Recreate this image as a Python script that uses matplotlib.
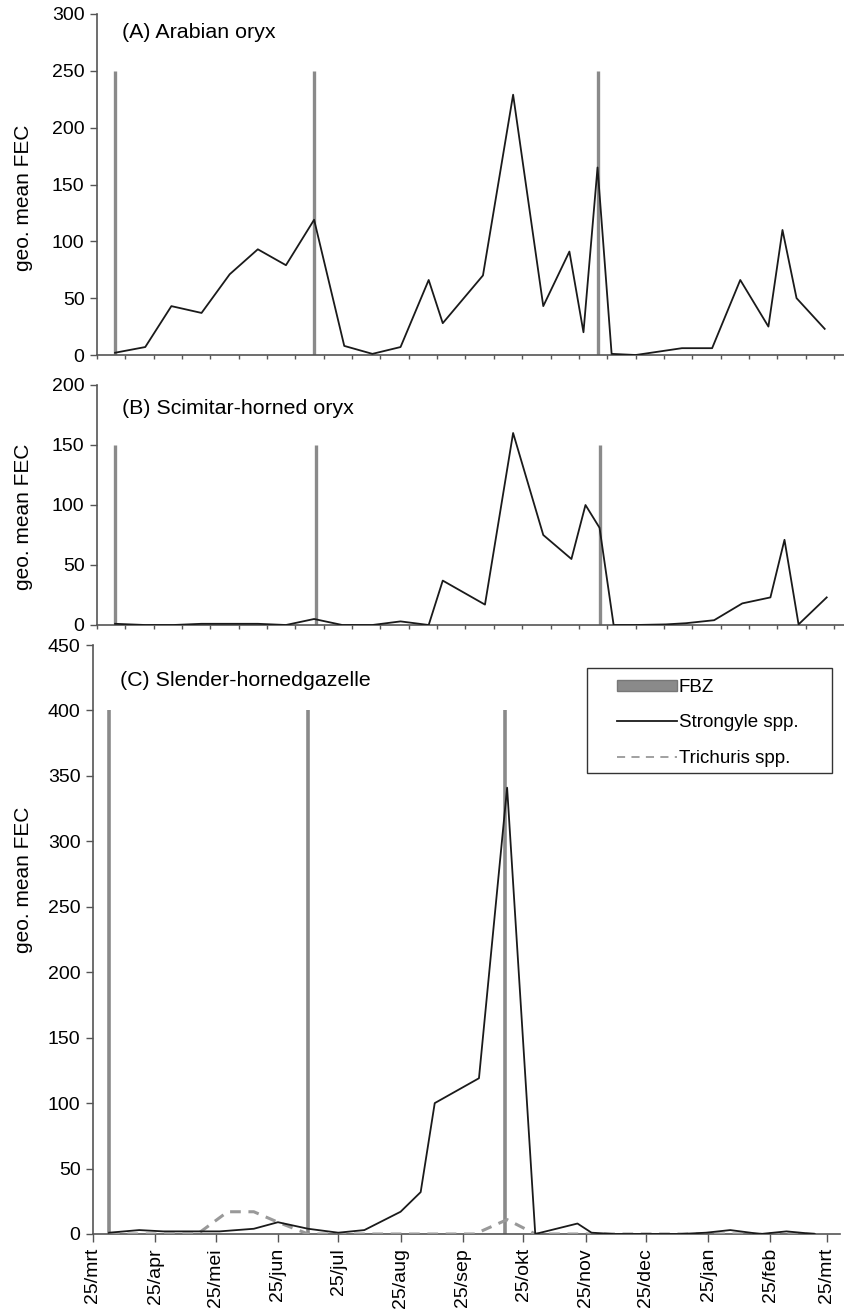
import numpy as np
import matplotlib.pyplot as plt
from matplotlib.patches import Patch, Rectangle
from matplotlib.lines import Line2D
from datetime import date

plt.rcParams['font.family'] = ['Liberation Sans', 'DejaVu Sans']

# sampling days, counted from 25/mrt
daysA = [11, 26, 39, 54, 68, 82, 96, 110, 125, 139, 153, 167, 174, 194, 209, 224, 237, 244, 251, 258, 270, 293, 308, 322, 336, 343, 350, 364]
fecA = [2, 7, 43, 37, 71, 93, 79, 119, 8, 1, 7, 66, 28, 70, 229, 43, 91, 20, 165, 1, 0, 6, 6, 66, 25, 110, 50, 23]
fbzA = [11, 110, 251]

daysB = [11, 26, 40, 54, 68, 82, 96, 110, 124, 139, 153, 167, 174, 195, 209, 224, 238, 245, 252, 259, 270, 285, 295, 309, 323, 337, 344, 351, 365]
fecB = [1, 0, 0, 1, 1, 1, 0, 5, 0, 0, 3, 0, 37, 17, 160, 75, 55, 100, 81, 0, 0, 0.5, 1.5, 4, 18, 23, 71, 0.5, 23]
fbzB = [11, 111, 252]

daysC = [8, 23, 35, 52, 63, 80, 92, 107, 122, 135, 153, 163, 170, 192, 206, 220, 241, 248, 259, 272, 292, 305, 317, 332, 345, 359]
strongC = [1, 3, 2, 2, 2, 4, 9, 4, 1, 3, 17, 32, 100, 119, 341, 0, 8, 1, 0, 0, 0, 1, 3, 0, 2, 0]
daysT = [8, 23, 35, 52, 67, 80, 92, 107, 122, 135, 153, 163, 170, 190, 206, 220, 241, 259, 292, 317, 345, 359]
trichC = [0, 0, 0, 0, 17, 17, 9, 0, 0, 0, 0, 0, 0, 0, 11, 0, 0, 0, 0, 0, 0, 0]
fbzC = [8, 107, 205]

month_names = ['mrt', 'apr', 'mei', 'jun', 'jul', 'aug', 'sep', 'okt', 'nov', 'dec', 'jan', 'feb', 'mrt']
month_dates = [date(2006, 3, 25), date(2006, 4, 25), date(2006, 5, 25), date(2006, 6, 25), date(2006, 7, 25),
               date(2006, 8, 25), date(2006, 9, 25), date(2006, 10, 25), date(2006, 11, 25), date(2006, 12, 25),
               date(2007, 1, 25), date(2007, 2, 25), date(2007, 3, 25)]
month_days = [(d - month_dates[0]).days for d in month_dates]
month_labels = ['25/' + m for m in month_names]

W, H = 845, 1315
fig = plt.figure(figsize=(W / 100, H / 100), dpi=100)

def px_axes(left, top, right, bottom):
    return fig.add_axes([left / W, 1 - bottom / H, (right - left) / W, (bottom - top) / H])

axA = px_axes(97, 14, 845, 355)
axB = px_axes(97, 385, 845, 625)
axC = px_axes(93, 645, 840, 1234)

spine_col = '#555555'
fbz_col = '#8a8a8a'

def style(ax, ymax, xlim):
    for s in ['top', 'right']:
        ax.spines[s].set_visible(False)
    for s in ['left', 'bottom']:
        ax.spines[s].set_color(spine_col)
        ax.spines[s].set_linewidth(1.2)
    ax.set_ylim(0, ymax)
    ax.set_yticks(np.arange(0, ymax + 1, 50))
    ax.set_xlim(*xlim)
    ax.tick_params(axis='y', direction='out', length=5, width=1, color=spine_col, labelsize=14, pad=4)

for ax, d, v, fbz, top, ymax in [(axA, daysA, fecA, fbzA, 250, 300), (axB, daysB, fecB, fbzB, 150, 200)]:
    ax.vlines(fbz, 0, top, color=fbz_col, lw=2.4, zorder=2)
    ax.plot(d, v, color='#1a1a1a', lw=1.3, zorder=3)
    style(ax, ymax, (2.0, 374.1))
    ax.set_xticks(np.arange(2.0, 374, 14.1))
    ax.set_xticklabels([])
    ax.tick_params(axis='x', direction='out', length=3, width=1, color=spine_col)

axC.vlines(fbzC, 0, 400, color=fbz_col, lw=2.6, zorder=2)
axC.plot(daysT, trichC, color='#999999', lw=2.2, dashes=(3.5, 2.5), zorder=3)
axC.plot(daysC, strongC, color='#1a1a1a', lw=1.3, zorder=4)
style(axC, 450, (0, 371.6))
axC.set_xticks(month_days)
axC.set_xticklabels(month_labels, rotation=90, fontsize=14)
axC.tick_params(axis='x', direction='out', length=6, width=1, color=spine_col, pad=4)

# panel titles
fig.text(122 / W, 1 - 33 / H, '(A) Arabian oryx', fontsize=15.4, va='center', ha='left')
fig.text(122 / W, 1 - 408 / H, '(B) Scimitar-horned oryx', fontsize=15.4, va='center', ha='left')
fig.text(120 / W, 1 - 680 / H, '(C) Slender-hornedgazelle', fontsize=15.4, va='center', ha='left')

# y labels
for yc in [198, 517, 880]:
    fig.text(24 / W, 1 - yc / H, 'geo. mean FEC', fontsize=15, rotation=90, va='center', ha='center')

# legend, frame drawn separately to get the wide box
handles = [Patch(facecolor=fbz_col, edgecolor='#777777', label='FBZ'),
           Line2D([], [], color='#1a1a1a', lw=1.3, label='Strongyle spp.'),
           Line2D([], [], color='#999999', lw=1.3, dashes=(4.5, 3.5), label='Trichuris spp.')]
leg = axC.legend(handles=handles, loc='upper left', bbox_to_anchor=(617 / W, 1 - 679 / H),
                 bbox_transform=fig.transFigure, borderaxespad=0, borderpad=0, fontsize=13.5,
                 frameon=False, handlelength=3.2, handleheight=0.55,
                 labelspacing=0.98, handletextpad=0.1)
fig.patches.append(Rectangle((587 / W, 1 - 773 / H), 245 / W, 105 / H, transform=fig.transFigure,
                             fill=False, edgecolor='#333333', lw=1.0))

fig.savefig('out.png', dpi=100)
